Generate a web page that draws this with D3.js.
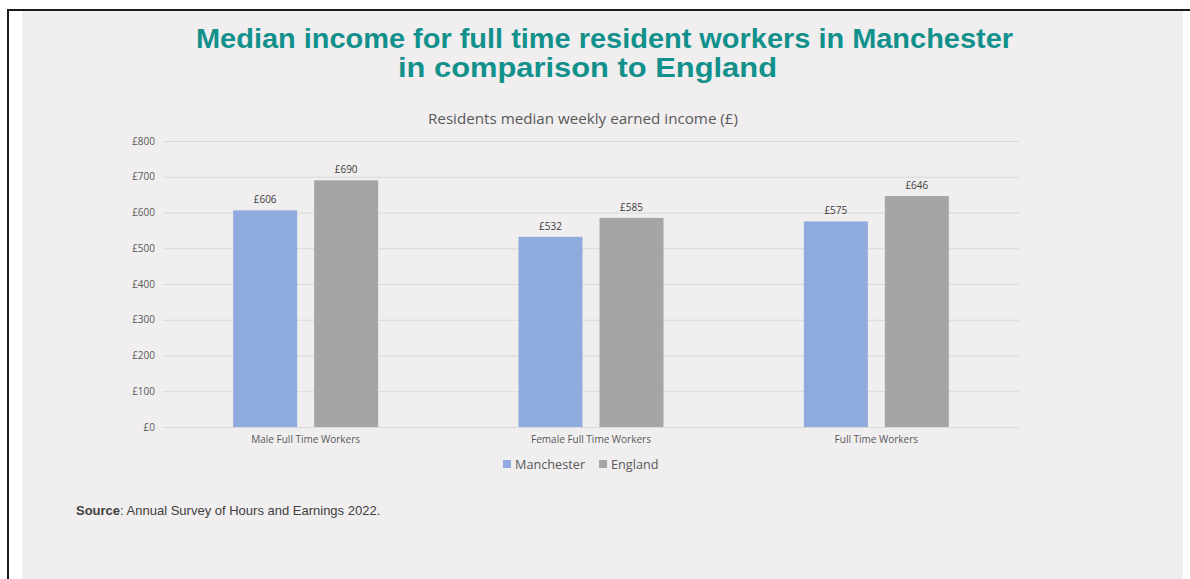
<!DOCTYPE html>
<html>
<head>
<meta charset="utf-8">
<script src="https://cdn.jsdelivr.net/npm/d3@7"></script>
<style>
  html, body { margin: 0; padding: 0; background: #ffffff; }
  svg { display: block; }
</style>
</head>
<body>
<svg id="chart" width="1190" height="579"></svg>
<script>
// Residents' median weekly earned income, full time workers (£)
const categories = ["Male Full Time Workers", "Female Full Time Workers", "Full Time Workers"];
const seriesNames = ["Manchester", "England"];
const manchester = [606, 532, 575];
const england = [690, 585, 646];
const yTicks = [0, 100, 200, 300, 400, 500, 600, 700, 800];
const colors = ["#8faadc", "#a5a5a5"];

const seriesValues = [manchester, england];
const rows = categories.map((c, i) => ({
  category: c,
  values: seriesNames.map((s, j) => ({ series: s, value: seriesValues[j][i] }))
}));

const svg = d3.select("#chart");
const W = 1190, H = 579;

// page frame: panel background with a dark rule on top and left
svg.append("rect").attr("x", 22).attr("y", 11).attr("width", 1161).attr("height", H - 11).attr("fill", "#f0eeef");
svg.append("line").attr("x1", 7).attr("x2", W).attr("y1", 10).attr("y2", 10).attr("stroke", "#1a1a1a").attr("stroke-width", 2);
svg.append("line").attr("x1", 8).attr("x2", 8).attr("y1", 10).attr("y2", H).attr("stroke", "#1a1a1a").attr("stroke-width", 2);

// title
const titleFont = { family: "Liberation Sans, Arial, sans-serif", size: 27 };
const titleLines = [
  { text: "Median income for full time resident workers in Manchester", cx: 604.5, y: 48, len: 817 },
  { text: "in comparison to England", cx: 587.5, y: 77, len: 379 }
];
svg.append("g").selectAll("text").data(titleLines).join("text")
  .attr("x", d => d.cx).attr("y", d => d.y)
  .attr("text-anchor", "middle")
  .attr("font-family", titleFont.family)
  .attr("font-weight", "bold")
  .attr("font-size", titleFont.size)
  .attr("fill", "#12918c")
  .attr("textLength", d => d.len)
  .attr("lengthAdjust", "spacingAndGlyphs")
  .text(d => d.text);

const plot = { left: 163, right: 1019, top: 141, bottom: 427 };

svg.append("text")
  .attr("x", 583).attr("y", 124)
  .attr("text-anchor", "middle")
  .attr("font-family", "Open Sans, sans-serif")
  .attr("font-size", 14)
  .attr("textLength", 310)
  .attr("lengthAdjust", "spacingAndGlyphs")
  .attr("fill", "#595959")
  .text("Residents median weekly earned income (£)");

const y = d3.scaleLinear().domain([0, 800]).range([plot.bottom, plot.top]);
const x0 = d3.scaleBand().domain(categories).range([plot.left, plot.right]).paddingInner(0).paddingOuter(0);
const groupW = 145;
const x1 = d3.scaleBand().domain(seriesNames)
  .range([(x0.bandwidth() - groupW) / 2, (x0.bandwidth() + groupW) / 2])
  .paddingInner(17 / 81).paddingOuter(0);

// gridlines
const yAxis = d3.axisLeft(y).tickValues(yTicks).tickSize(-(plot.right - plot.left)).tickPadding(8)
  .tickFormat(d => "£" + d);
const gy = svg.append("g").attr("transform", `translate(${plot.left},0)`).call(yAxis);
gy.select(".domain").remove();
gy.selectAll(".tick line").attr("stroke", "#d9d9d9").attr("stroke-width", 1);
gy.selectAll(".tick text")
  .attr("font-family", "Open Sans, sans-serif")
  .attr("font-size", 10)
  .attr("fill", "#595959");

// bars
const groups = svg.append("g").selectAll("g").data(rows).join("g")
  .attr("transform", d => `translate(${x0(d.category)},0)`);

groups.selectAll("rect").data(d => d.values).join("rect")
  .attr("x", d => x1(d.series))
  .attr("y", d => y(d.value))
  .attr("width", x1.bandwidth())
  .attr("height", d => y(0) - y(d.value))
  .attr("fill", (d, i) => colors[i]);

groups.selectAll("text.val").data(d => d.values).join("text")
  .attr("class", "val")
  .attr("x", d => x1(d.series) + x1.bandwidth() / 2)
  .attr("y", d => y(d.value) - 7)
  .attr("text-anchor", "middle")
  .attr("font-family", "Open Sans, sans-serif")
  .attr("font-size", 10)
  .attr("fill", "#404040")
  .text(d => "£" + d.value);

// baseline
svg.append("line").attr("x1", plot.left).attr("x2", plot.right)
  .attr("y1", y(0) + 0.5).attr("y2", y(0) + 0.5).attr("stroke", "#d9d9d9");

// category axis labels
const xAxis = d3.axisBottom(x0).tickSize(0).tickPadding(9);
const gx = svg.append("g").attr("transform", `translate(0,${plot.bottom})`).call(xAxis);
gx.select(".domain").remove();
gx.selectAll(".tick text")
  .attr("font-family", "Open Sans, sans-serif")
  .attr("font-size", 10)
  .attr("fill", "#595959");

// legend
const legendItems = [
  { name: seriesNames[0], color: colors[0], x: 503 },
  { name: seriesNames[1], color: colors[1], x: 599 }
];
const lg = svg.append("g").selectAll("g").data(legendItems).join("g")
  .attr("transform", d => `translate(${d.x},460)`);
lg.append("rect").attr("width", 8).attr("height", 8).attr("fill", d => d.color);
lg.append("text").attr("x", 12).attr("y", 8.5)
  .attr("font-family", "Open Sans, sans-serif")
  .attr("font-size", 12.7)
  .attr("fill", "#595959")
  .text(d => d.name);

// source note
const src = svg.append("text").attr("x", 76).attr("y", 515)
  .attr("font-family", "Liberation Sans, Arial, sans-serif")
  .attr("font-size", 13)
  .attr("fill", "#404040");
src.append("tspan").attr("font-weight", "bold").text("Source");
src.append("tspan").text(": Annual Survey of Hours and Earnings 2022.");
</script>
</body>
</html>
